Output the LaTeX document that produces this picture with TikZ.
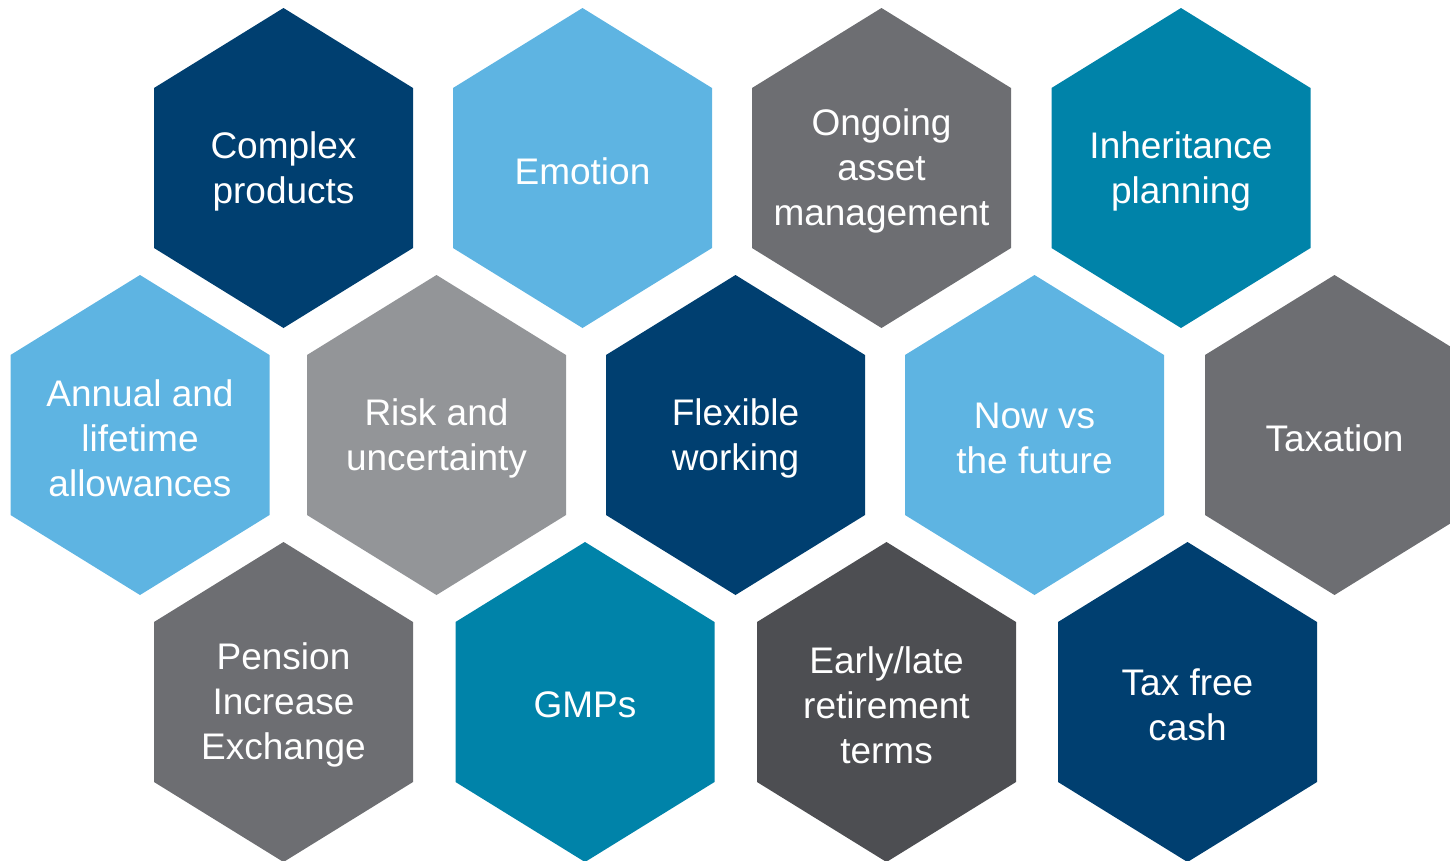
\documentclass[tikz,border=0pt]{standalone}
\usepackage{fontspec}
\setmainfont{Liberation Sans}
\usepackage{tikz}
\definecolor{hexnavy}{HTML}{003F70}
\definecolor{hexsky}{HTML}{5EB4E2}
\definecolor{hexgrey}{HTML}{6D6E72}
\definecolor{hexteal}{HTML}{0083A9}
\definecolor{hexlight}{HTML}{939598}
\definecolor{hexdark}{HTML}{4D4E52}
\tikzset{
  hexcell/.pic = {\fill (0,-160) -- (129.5,-80) -- (129.5,80) -- (0,160) -- (-129.5,80) -- (-129.5,-80) -- cycle;},
  cell/.style = {text=white, align=center, yshift=-3pt, font=\fontsize{37}{45}\selectfont}
}

\begin{document}
\begin{tikzpicture} [x=1pt, y=-1pt]
\useasboundingbox (0,0) rectangle (1450,860);
\clip (0,0) rectangle (1450,860);
\pic[hexnavy] at (283.5,168) {hexcell};
\pic[hexsky] at (582.5,168) {hexcell};
\pic[hexgrey] at (881.5,168) {hexcell};
\pic[hexteal] at (1181,168) {hexcell};
\pic[hexsky] at (140,435) {hexcell};
\pic[hexlight] at (436.5,435) {hexcell};
\pic[hexnavy] at (735.5,435) {hexcell};
\pic[hexsky] at (1034.5,435) {hexcell};
\pic[hexgrey] at (1334.5,435) {hexcell};
\pic[hexgrey] at (283.5,702) {hexcell};
\pic[hexteal] at (585,702) {hexcell};
\pic[hexdark] at (886.5,702) {hexcell};
\pic[hexnavy] at (1187.5,702) {hexcell};
\node[cell] (complex) at (283.5,168) {Complex\\products};
\node[cell] (emotion) at (582.5,168) {Emotion};
\node[cell] (ongoing) at (881.5,168) {Ongoing\\asset\\management};
\node[cell] (inherit) at (1181,168) {Inheritance\\planning};
\node[cell] (annual) at (140,435) {Annual and\\lifetime\\allowances};
\node[cell] (risk) at (436.5,435) {Risk and\\uncertainty};
\node[cell] (flexible) at (735.5,435) {Flexible\\working};
\node[cell] (nowvs) at (1034.5,435) {Now vs\\the future};
\node[cell] (taxation) at (1334.5,435) {Taxation};
\node[cell] (pension) at (283.5,702) {Pension\\Increase\\Exchange};
\node[cell] (gmps) at (585,702) {GMPs};
\node[cell] (early) at (886.5,702) {Early/late\\retirement\\terms};
\node[cell] (taxfree) at (1187.5,702) {Tax free\\cash};
\end{tikzpicture}
\end{document}
